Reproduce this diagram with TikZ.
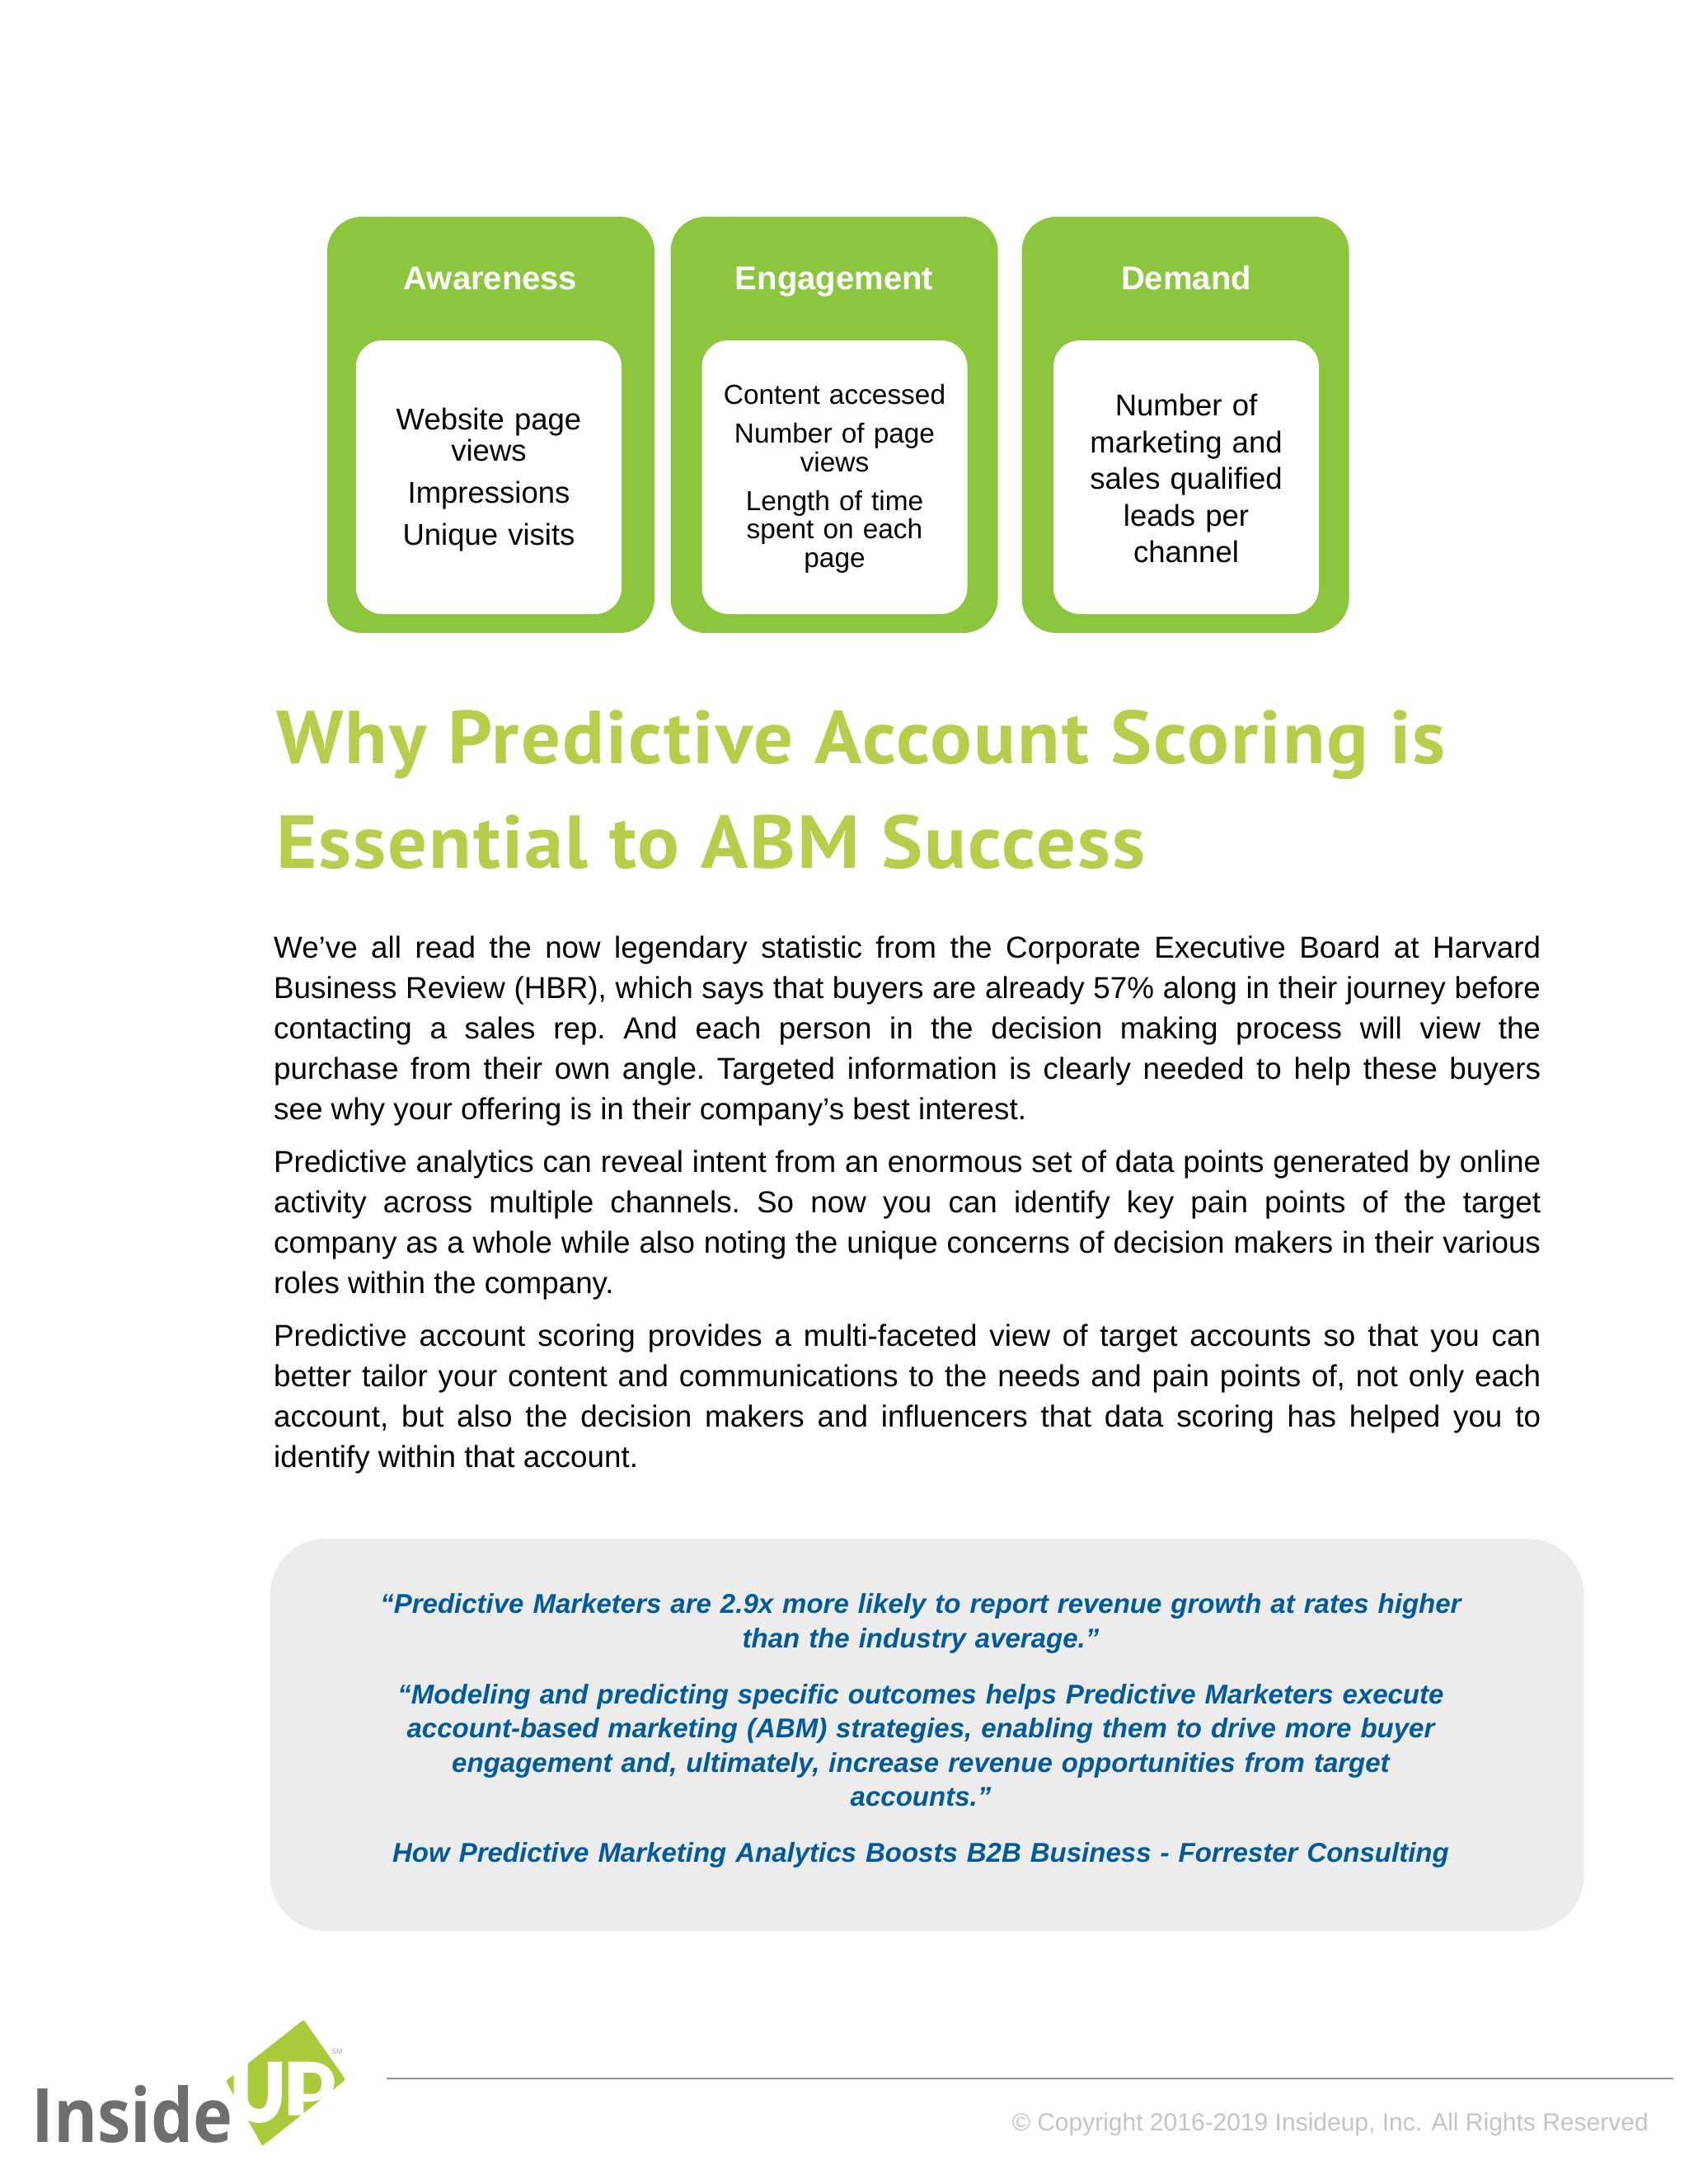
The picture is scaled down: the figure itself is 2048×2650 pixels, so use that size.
\documentclass[tikz,border=0pt]{standalone}
\usepackage{fontspec}
\setmainfont{Liberation Sans}
\newfontfamily\titlefont{PT Sans}[FakeStretch=1.04,LetterSpace=2.2]
\newfontfamily\logofont{Open Sans}[FakeStretch=0.89]
\usepackage{xcolor}
\definecolor{boxgreen}{HTML}{8CC63F}
\definecolor{titlegreen}{HTML}{B6CE4B}
\definecolor{logogreen}{HTML}{A9CB3B}
\definecolor{quoteblue}{HTML}{005A9C}
\definecolor{quotegrey}{HTML}{EDECEC}
\definecolor{logogrey}{HTML}{6D6E70}
\definecolor{rulegrey}{HTML}{939393}
\definecolor{copygrey}{HTML}{C4C4C4}
\tikzstyle{outerbox} = [fill=boxgreen, rectangle, rounded corners=42pt, minimum width=397pt, minimum height=505pt, inner sep=0pt]
\tikzstyle{innerbox} = [fill=white, rectangle, rounded corners=32pt, minimum width=322pt, minimum height=332pt, inner sep=0pt]
\tikzstyle{innertext} = [inner sep=0pt, text width=310pt, align=center]
\tikzstyle{boxtitle} = [text=white, inner sep=0pt, font=\fontsize{40}{48}\selectfont\bfseries]
\tikzstyle{headline} = [text=titlegreen, inner sep=0pt, anchor=base west, font=\titlefont\fontsize{91}{100}\selectfont\bfseries]
\tikzstyle{bodytext} = [inner sep=0pt, anchor=north west, text width=1537pt, align=justify, font=\fontsize{36.8}{49}\selectfont\frenchspacing]
\tikzstyle{quotebox} = [fill=quotegrey, rectangle, rounded corners=68pt, minimum width=1594pt, minimum height=476pt, inner sep=0pt]
\tikzstyle{quotetext} = [text=quoteblue, inner sep=0pt, text width=1500pt, align=center, font=\fontsize{33}{41.5}\selectfont\bfseries\itshape\frenchspacing]
\begin{document}
\begin{tikzpicture}[x=1pt, y=-1pt]
\useasboundingbox (0,0) rectangle (2048,2650);
% the three columns
\node [outerbox] (awarebox) at (595.5,515.5) {};
\node [outerbox] (engagebox) at (1012,515.5) {};
\node [outerbox] (demandbox) at (1438,515.5) {};
\node [boxtitle, anchor=base] (awaretitle) at (595,351) {Awareness};
\node [boxtitle, anchor=base] (engagetitle) at (1012,351) {Engagement};
\node [boxtitle, anchor=base] (demandtitle) at (1439,351) {Demand};
\node [innerbox] (awarebody) at (593,579) {};
\node [innerbox] (engagebody) at (1012.5,579) {};
\node [innerbox] (demandbody) at (1439,579) {};
\node [innertext, font=\fontsize{36.5}{38}\selectfont] (awaretext) at (593,582.5) {%
    Website page\\views\\[13pt]
    Impressions\\[13pt]
    Unique visits};
\node [innertext, font=\fontsize{33.4}{34.5}\selectfont] (engagetext) at (1012.5,581) {%
    Content accessed\\[12.5pt]
    Number of page\\views\\[12.5pt]
    Length of time\\spent on each\\page};
\node [innertext, font=\fontsize{36.5}{44.5}\selectfont] (demandtext) at (1439,580.5) {%
    Number of\\marketing and\\sales qualified\\leads per\\channel};
% headline
\node [headline] (headone) at (335,926) {Why Predictive Account Scoring is};
\node [headline] (headtwo) at (335,1053) {Essential to ABM Success};
% running text
\node [bodytext] (paraone) at (332,1135.5) {%
    We’ve all read the now legendary statistic from the Corporate Executive Board at Harvard\linebreak
    Business Review (HBR), which says that buyers are already 57\% along in their journey before\linebreak
    contacting a sales rep. And each person in the decision making process will view the\linebreak
    purchase from their own angle. Targeted information is clearly needed to help these buyers\linebreak
    see why your offering is in their company’s best interest.};
\node [bodytext] (paratwo) at (332,1396) {%
    Predictive analytics can reveal intent from an enormous set of data points generated by online\linebreak
    activity across multiple channels. So now you can identify key pain points of the target\linebreak
    company as a whole while also noting the unique concerns of decision makers in their various\linebreak
    roles within the company.};
\node [bodytext] (parathree) at (332,1607) {%
    Predictive account scoring provides a multi-faceted view of target accounts so that you can\linebreak
    better tailor your content and communications to the needs and pain points of, not only each\linebreak
    account, but also the decision makers and influencers that data scoring has helped you to\linebreak
    identify within that account.};
% quote panel
\node [quotebox] (quotepanel) at (1124.5,2105) {};
\node [quotetext] (quotebody) at (1117,2100) {%
    “Predictive Marketers are 2.9x more likely to report revenue growth at rates higher\\
    than the industry average.”\\[26.5pt]
    “Modeling and predicting specific outcomes helps Predictive Marketers execute\\
    account-based marketing (ABM) strategies, enabling them to drive more buyer\\
    engagement and, ultimately, increase revenue opportunities from target\\
    accounts.”\\[26.5pt]
    How Predictive Marketing Analytics Boosts B2B Business - Forrester Consulting};
% footer
\coordinate (ruleleft) at (469,2522);
\coordinate (ruleright) at (2030,2522);
\draw [rulegrey, line width=2pt] (ruleleft) -- (ruleright);
\node [text=copygrey, inner sep=0pt, anchor=base east, font=\fontsize{30}{36}\selectfont] (copyline) at (2000,2585) {© Copyright 2016-2019 Insideup, Inc. All Rights Reserved};
% logo
\node [text=logogrey, inner sep=0pt, anchor=base west, font=\logofont\fontsize{91}{100}\selectfont\bfseries] (logoword) at (38,2599) {Inside};
\begin{scope}[shift={(260,2430)}, x=0.3333pt, y=-0.3333pt]
\fill [logogreen, rounded corners=2pt] (42,285) -- (325,62) -- (478,280) -- (175,522) -- cycle;
\draw [white, line width=17pt] (96,160) -- (96,340) .. controls (96,390) and (130,412) .. (165,412) .. controls (200,412) and (220,380) .. (220,335) -- (220,215);
\fill [white] (70,180) -- (122,140) -- (122,210) -- (70,260) -- cycle;
% the P, counter drawn over it
\fill [white] (270,215) -- (345,215) .. controls (410,215) and (437,250) .. (437,290) .. controls (437,330) and (400,360) .. (340,360) -- (325,360) -- (325,410) -- (270,410) -- cycle;
\fill [logogreen] (325,255) -- (360,255) .. controls (380,255) and (390,270) .. (390,292) .. controls (390,318) and (378,332) .. (355,332) -- (325,332) -- cycle;
\node [text=gray!70, inner sep=0pt, font=\fontsize{9}{10}\selectfont] (logomark) at (447,177) {SM};
\end{scope}
\end{tikzpicture}
\end{document}
